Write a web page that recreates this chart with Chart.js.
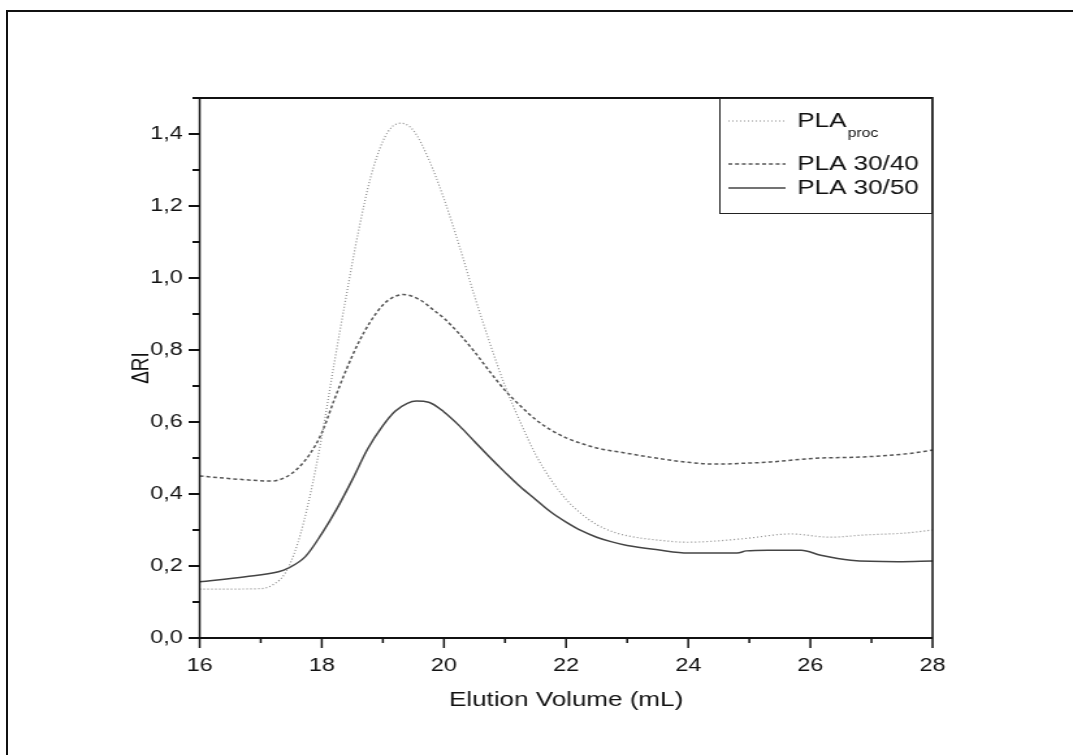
<!DOCTYPE html>
<html><head><meta charset="utf-8">
<script src="https://cdn.jsdelivr.net/npm/chart.js@4"></script>
<style>
html,body{margin:0;padding:0;background:#fff;overflow:hidden;width:1073px;height:755px;}
#frame{position:absolute;left:6px;top:10px;width:1200px;height:900px;border:2px solid #111;box-sizing:border-box;}
#c{position:absolute;left:0;top:0;}
</style></head><body>
<div id="frame"></div>
<canvas id="c" width="825" height="755" style="width:1073px;height:755px;"></canvas>
<script>
// ---- data ----
const procX = [16.0, 16.5, 17.0, 17.2, 17.4, 17.6, 17.8, 18.0, 18.2, 18.4, 18.6, 18.8, 19.0, 19.15, 19.3, 19.5, 19.75, 20.0, 20.25, 20.5, 20.75, 21.0, 21.25, 21.5, 21.75, 22.0, 22.25, 22.5, 22.75, 23.0, 23.5, 24.0, 24.5, 24.97, 25.67, 26.33, 26.87, 27.59, 28.0];
const procY = [0.136, 0.136, 0.137, 0.148, 0.18, 0.26, 0.39, 0.56, 0.76, 0.95, 1.13, 1.28, 1.38, 1.42, 1.43, 1.41, 1.33, 1.22, 1.09, 0.95, 0.82, 0.70, 0.60, 0.51, 0.44, 0.385, 0.345, 0.315, 0.296, 0.284, 0.272, 0.266, 0.27, 0.277, 0.289, 0.28, 0.286, 0.292, 0.30];

const s3040X = [16.0, 16.63, 17.18, 17.4, 17.6, 17.8, 18.0, 18.2, 18.4, 18.6, 18.8, 19.0, 19.15, 19.33, 19.6, 19.8, 20.0, 20.25, 20.5, 20.75, 21.0, 21.25, 21.5, 21.75, 22.0, 22.5, 23.0, 23.5, 24.0, 24.42, 25.0, 25.35, 26.06, 26.87, 27.59, 28.0];
const s3040Y = [0.45, 0.441, 0.436, 0.446, 0.47, 0.51, 0.57, 0.66, 0.745, 0.82, 0.88, 0.925, 0.945, 0.954, 0.94, 0.915, 0.888, 0.845, 0.795, 0.74, 0.688, 0.645, 0.607, 0.578, 0.556, 0.528, 0.513, 0.499, 0.488, 0.483, 0.486, 0.489, 0.499, 0.503, 0.512, 0.522];

const s3050X = [16.0, 16.75, 17.29, 17.45, 17.73, 18.0, 18.25, 18.5, 18.75, 19.0, 19.2, 19.4, 19.55, 19.75, 20.0, 20.25, 20.5, 20.75, 21.0, 21.25, 21.5, 21.75, 22.0, 22.25, 22.5, 22.75, 23.0, 23.5, 24.0, 24.8, 24.95, 25.3, 25.85, 26.17, 26.66, 27.43, 28.0];
const s3050Y = [0.156, 0.17, 0.184, 0.194, 0.226, 0.29, 0.36, 0.44, 0.525, 0.59, 0.63, 0.652, 0.658, 0.655, 0.628, 0.59, 0.546, 0.502, 0.46, 0.42, 0.385, 0.35, 0.322, 0.298, 0.28, 0.267, 0.257, 0.245, 0.236, 0.236, 0.242, 0.244, 0.244, 0.23, 0.216, 0.212, 0.214];

const seriesNames = ['PLA', 'PLA 30/40', 'PLA 30/50'];
const xTickValues = [16, 18, 20, 22, 24, 26, 28];
const xTickLabels = ['16', '18', '20', '22', '24', '26', '28'];
const xMinorValues = [17, 19, 21, 23, 25, 27];
const yTickValues = [0, 0.2, 0.4, 0.6, 0.8, 1.0, 1.2, 1.4];
const yTickLabels = ['0,0', '0,2', '0,4', '0,6', '0,8', '1,0', '1,2', '1,4'];
const yMinorValues = [0.1, 0.3, 0.5, 0.7, 0.9, 1.1, 1.3, 1.5];

const FONT = '"Liberation Sans", Arial, sans-serif';
const pts = (xs, ys) => xs.map((x, i) => ({x: x, y: ys[i]}));

const styles = [
  {color: '#8c8c8c', width: 1.2, dash: [1, 2]},
  {color: '#555555', width: 1.5, dash: [3, 2.2]},
  {color: '#444444', width: 1.5, dash: []}
];

const decoPlugin = {
  id: 'deco',
  afterDraw(chart) {
    const ctx = chart.ctx, xs = chart.scales.x, ys = chart.scales.y, a = chart.chartArea;
    ctx.save();
    ctx.strokeStyle = '#111';
    ctx.lineCap = 'butt';
    ctx.lineWidth = 1.5;
    ctx.beginPath();
    ctx.moveTo(a.left, a.top - 1); ctx.lineTo(a.left, a.bottom + 1);
    ctx.moveTo(a.right, a.top - 1); ctx.lineTo(a.right, a.bottom + 1);
    xTickValues.forEach(v => { const p = xs.getPixelForValue(v); ctx.moveTo(p, a.bottom); ctx.lineTo(p, a.bottom + 10); });
    xMinorValues.forEach(v => { const p = xs.getPixelForValue(v); ctx.moveTo(p, a.bottom); ctx.lineTo(p, a.bottom + 5); });
    ctx.stroke();
    ctx.lineWidth = 2;
    ctx.beginPath();
    ctx.moveTo(a.left, a.top); ctx.lineTo(a.right, a.top);
    ctx.moveTo(a.left, a.bottom); ctx.lineTo(a.right, a.bottom);
    yTickValues.forEach(v => { const p = ys.getPixelForValue(v); ctx.moveTo(a.left, p); ctx.lineTo(a.left - 8.5, p); });
    yMinorValues.forEach(v => { const p = ys.getPixelForValue(v); ctx.moveTo(a.left, p); ctx.lineTo(a.left - 5.5, p); });
    ctx.stroke();

    // legend
    const bx = 553, by = a.top, bw = a.right - 553, bh = 115;
    ctx.fillStyle = '#fff';
    ctx.fillRect(bx, by + 1, bw - 1, bh - 1);
    ctx.lineWidth = 1;
    ctx.strokeStyle = '#222';
    ctx.strokeRect(bx + 0.5, by + 0.5, bw - 1, bh);
    const rows = [121, 164, 188];
    rows.forEach((ry, i) => {
      const st = styles[i];
      ctx.strokeStyle = st.color;
      ctx.lineWidth = st.width;
      ctx.setLineDash(st.dash);
      ctx.beginPath(); ctx.moveTo(560, ry); ctx.lineTo(604, ry); ctx.stroke();
      ctx.setLineDash([]);
      ctx.fillStyle = '#111';
      ctx.textAlign = 'left';
      ctx.textBaseline = 'middle';
      ctx.font = '20px ' + FONT;
      ctx.fillText(seriesNames[i], 613, ry);
      if (i === 0) {
        const w = ctx.measureText(seriesNames[i]).width;
        ctx.font = '12px ' + FONT;
        ctx.fillText('proc', 613 + w + 1, ry + 13);
      }
    });
    ctx.restore();
  }
};

new Chart(document.getElementById('c'), {
  type: 'line',
  data: {
    datasets: [0, 1, 2].map(i => ({
      label: i === 0 ? 'PLA proc' : seriesNames[i],
      data: pts([procX, s3040X, s3050X][i], [procY, s3040Y, s3050Y][i]),
      borderColor: styles[i].color,
      borderWidth: styles[i].width,
      borderDash: styles[i].dash,
      fill: false,
      pointRadius: 0
    }))
  },
  options: {
    responsive: false,
    animation: false,
    devicePixelRatio: 1,
    layout: {padding: {top: 98, right: 108, left: 0, bottom: 0}},
    elements: {line: {cubicInterpolationMode: 'monotone'}, point: {radius: 0}},
    plugins: {legend: {display: false}, tooltip: {enabled: false}},
    scales: {
      x: {
        type: 'linear', min: 16, max: 28,
        afterBuildTicks: s => { s.ticks = xTickValues.map(v => ({value: v})); },
        afterFit: s => { s.height = 117; },
        grid: {display: false, drawTicks: false},
        border: {display: false},
        ticks: {padding: 17, color: '#111', maxRotation: 0, font: {family: FONT, size: 18},
          callback: (v, i) => xTickLabels[i]},
        title: {display: true, text: 'Elution Volume (mL)', color: '#111',
          font: {family: FONT, size: 20}, padding: {top: 0, bottom: 43}}
      },
      y: {
        type: 'linear', min: 0, max: 1.5,
        afterBuildTicks: s => { s.ticks = yTickValues.map(v => ({value: v})); },
        afterFit: s => { s.width = 153.5; },
        grid: {display: false, drawTicks: false},
        border: {display: false},
        ticks: {padding: 13, color: '#111', font: {family: FONT, size: 18},
          callback: (v, i) => yTickLabels[i]},
        title: {display: true, text: 'ΔRI', color: '#111',
          font: {family: FONT, size: 19}, padding: {top: 97, bottom: 0}}
      }
    }
  },
  plugins: [decoPlugin]
});
</script>
</body></html>
